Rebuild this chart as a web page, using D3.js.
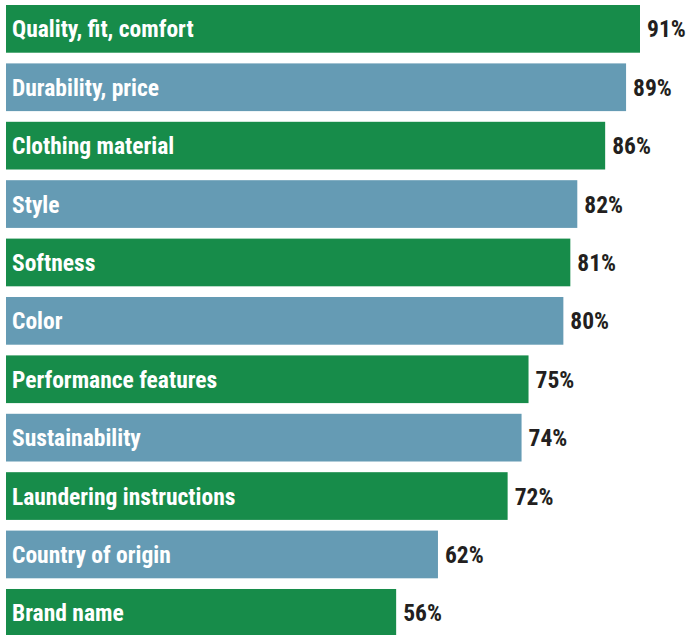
<!DOCTYPE html>
<html><head><meta charset="utf-8">
<script src="https://cdn.jsdelivr.net/npm/d3@7"></script>
<style>
html,body{margin:0;padding:0;background:#fff;}
svg{display:block;}
text{font-family:"Liberation Sans Narrow","Roboto Condensed","DejaVu Sans Condensed",sans-serif;font-weight:bold;font-stretch:condensed;}
</style></head><body>
<svg id="chart" width="688" height="635"></svg>
<script>
const categories = ["Quality, fit, comfort","Durability, price","Clothing material","Style","Softness","Color","Performance features","Sustainability","Laundering instructions","Country of origin","Brand name"];
const values = [91,89,86,82,81,80,75,74,72,62,56];
const valueLabels = ["91%","89%","86%","82%","81%","80%","75%","74%","72%","62%","56%"];
const colors = ["#178c4a","#659bb4"];

const svg = d3.select("#chart");
const x = d3.scaleLinear().domain([0,91]).range([6,640]);
const y = d3.scaleBand().domain(categories).range([5,636.7]).paddingInner(0.183).paddingOuter(0);

const g = svg.selectAll("g.row").data(categories).join("g").attr("class","row");
g.append("rect")
  .attr("x", x(0))
  .attr("y", d => y(d))
  .attr("width", (d,i) => x(values[i]) - x(0))
  .attr("height", y.bandwidth())
  .attr("fill", (d,i) => colors[i%2]);
g.append("text")
  .attr("x", 12)
  .attr("y", d => y(d) + y.bandwidth()/2)
  .attr("dy","0.36em")
  .attr("fill","#fff")
  .attr("font-size",23.5)
  .text(d => d);
g.append("text")
  .attr("x", (d,i) => x(values[i]) + 7)
  .attr("y", d => y(d) + y.bandwidth()/2)
  .attr("dy","0.36em")
  .attr("fill","#231f20")
  .attr("font-size",23.5)
  .text((d,i) => valueLabels[i]);
</script></body></html>
